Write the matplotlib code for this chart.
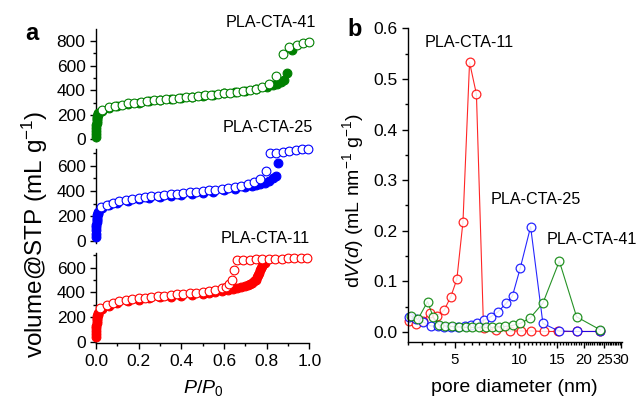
import numpy as np
import matplotlib
matplotlib.use("Agg")
from matplotlib import pyplot as plt
from matplotlib.ticker import MultipleLocator, FixedLocator, NullFormatter, FixedFormatter

#################################
# style
#################################
plt.rcParams['font.family'] = ['Liberation Sans', 'DejaVu Sans']
plt.rcParams['mathtext.fontset'] = 'custom'
plt.rcParams['mathtext.rm'] = 'Liberation Sans'
plt.rcParams['mathtext.it'] = 'Liberation Sans:italic'
plt.rcParams['mathtext.default'] = 'regular'

#################################
# data: (a) N2 isotherms, P/P0 vs volume
#################################
# PLA-CTA-11 (red)
x11_ads = [0.0002, 0.0005, 0.001, 0.0015, 0.002, 0.003, 0.004, 0.005, 0.006, 0.007, 0.008, 0.009, 0.01,
           0.03, 0.06, 0.10, 0.15, 0.20, 0.25, 0.30, 0.35, 0.40, 0.45, 0.50, 0.53, 0.56, 0.59, 0.62,
           0.64, 0.66, 0.68, 0.70, 0.71, 0.72, 0.73, 0.74, 0.75, 0.755, 0.76, 0.765, 0.77, 0.775, 0.78, 0.79]
v11_ads = [35, 60, 85, 110, 130, 150, 165, 180, 193, 205, 215, 225, 235,
           262, 290, 310, 328, 340, 350, 358, 366, 374, 382, 390, 396, 403, 412, 422,
           430, 438, 446, 455, 461, 468, 477, 488, 502, 520, 540, 560, 580, 600, 615, 635]
x11_des = [0.02, 0.05, 0.08, 0.11, 0.14, 0.17, 0.20, 0.23, 0.26, 0.29, 0.32, 0.35, 0.38, 0.41, 0.44,
           0.47, 0.50, 0.53, 0.56, 0.59, 0.61, 0.625, 0.635, 0.645, 0.66, 0.69, 0.72, 0.75, 0.78,
           0.81, 0.84, 0.87, 0.90, 0.93, 0.96, 0.99]
v11_des = [270, 298, 315, 327, 336, 344, 351, 357, 363, 368, 373, 378, 383, 388, 393,
           398, 404, 411, 420, 432, 445, 465, 500, 578, 662, 664, 665, 666, 668,
           669, 670, 672, 674, 676, 678, 680]

# PLA-CTA-25 (blue)
x25_ads = [0.0002, 0.0005, 0.001, 0.0015, 0.002, 0.003, 0.004, 0.005, 0.006, 0.007, 0.008, 0.009, 0.01,
           0.03, 0.06, 0.10, 0.15, 0.20, 0.25, 0.30, 0.35, 0.40, 0.45, 0.50, 0.55, 0.60, 0.65,
           0.70, 0.73, 0.75, 0.77, 0.79, 0.81, 0.83, 0.845, 0.855]
v25_ads = [35, 60, 85, 110, 130, 150, 165, 180, 193, 205, 215, 225, 235,
           262, 288, 305, 320, 333, 343, 352, 361, 369, 377, 385, 394, 404, 416,
           430, 438, 447, 455, 466, 480, 500, 523, 625]
x25_des = [0.023, 0.05, 0.08, 0.11, 0.14, 0.17, 0.20, 0.23, 0.26, 0.29, 0.32, 0.35, 0.38, 0.41, 0.44,
           0.47, 0.50, 0.53, 0.56, 0.59, 0.62, 0.65, 0.68, 0.71, 0.74, 0.77, 0.795,
           0.815, 0.845, 0.875, 0.905, 0.935, 0.965, 0.995]
v25_des = [269, 290, 306, 318, 328, 336, 343, 350, 356, 362, 368, 373, 378, 384, 389,
           394, 400, 405, 411, 417, 424, 432, 442, 455, 472, 495, 563,
           700, 705, 712, 718, 725, 732, 738]

# PLA-CTA-41 (green)
x41_ads = [0.0002, 0.0005, 0.001, 0.0015, 0.002, 0.003, 0.004, 0.005, 0.006, 0.007, 0.008, 0.009, 0.01,
           0.03, 0.06, 0.10, 0.15, 0.20, 0.25, 0.30, 0.35, 0.40, 0.45, 0.50, 0.55, 0.60, 0.65,
           0.70, 0.75, 0.80, 0.83, 0.85, 0.865, 0.88, 0.895, 0.92]
v41_ads = [20, 45, 70, 95, 115, 135, 150, 163, 175, 187, 197, 206, 215,
           235, 255, 272, 287, 300, 310, 319, 328, 337, 346, 355, 365, 375, 386,
           398, 410, 425, 440, 452, 468, 480, 538, 728]
x41_des = [0.027, 0.06, 0.09, 0.12, 0.15, 0.18, 0.21, 0.24, 0.27, 0.30, 0.33, 0.36, 0.39, 0.42, 0.45,
           0.48, 0.51, 0.54, 0.57, 0.60, 0.63, 0.66, 0.69, 0.72, 0.75, 0.78, 0.81, 0.845,
           0.875, 0.905, 0.94, 0.97, 1.0]
v41_des = [240, 262, 274, 284, 293, 300, 306, 312, 317, 322, 327, 332, 337, 342, 347,
           352, 358, 363, 369, 375, 381, 388, 396, 404, 413, 425, 450, 512,
           693, 754, 768, 782, 795]

#################################
# data: (b) pore size distribution
#################################
d11 = [3.05, 3.3, 3.55, 3.8, 4.1, 4.45, 4.78, 5.1, 5.45, 5.85, 6.3, 6.8, 7.8, 9.0, 10.2, 11.4, 13.0, 15.2, 18.6, 23.9]
dv11 = [0.022, 0.016, 0.022, 0.037, 0.032, 0.043, 0.070, 0.104, 0.218, 0.533, 0.470, 0.008, 0.003, 0.002,
        0.002, 0.002, 0.001, 0.001, 0.001, 0.001]
d25 = [3.05, 3.3, 3.55, 3.85, 4.15, 4.45, 4.8, 5.15, 5.55, 5.95, 6.35, 6.8, 7.35, 7.95, 8.7, 9.3, 10.1,
       11.3, 12.9, 15.3, 18.6, 23.9]
dv25 = [0.030, 0.025, 0.020, 0.012, 0.011, 0.010, 0.010, 0.010, 0.011, 0.013, 0.017, 0.023, 0.030, 0.040,
        0.057, 0.072, 0.126, 0.208, 0.017, 0.002, 0.001, 0.001]
d41 = [3.1, 3.35, 3.72, 3.95, 4.2, 4.5, 4.85, 5.2, 5.6, 6.0, 6.45, 6.95, 7.45, 8.0, 8.6, 9.3, 10.1,
       11.2, 12.9, 15.4, 18.55, 24.0]
dv41 = [0.032, 0.025, 0.060, 0.030, 0.014, 0.012, 0.011, 0.010, 0.009, 0.009, 0.009, 0.009, 0.009, 0.010,
        0.011, 0.013, 0.017, 0.027, 0.057, 0.140, 0.030, 0.004]

names = ["PLA-CTA-11", "PLA-CTA-25", "PLA-CTA-41"]
colors = ["#ff0000", "#0000ff", "#008000"]

#################################
# figure
#################################
fig = plt.figure(figsize=(6.37, 4.03), dpi=100)

tick_fs = 12.5
lab_fs = 14

def style_axis(ax):
    for s in ["top", "right"]:
        ax.spines[s].set_visible(False)
    for s in ["left", "bottom"]:
        ax.spines[s].set_linewidth(1.0)
    ax.tick_params(which="major", direction="out", length=4, width=1.0, labelsize=tick_fs)
    ax.tick_params(which="minor", direction="out", length=2.2, width=1.0)

# left column: three stacked isotherm panels (top=41, middle=25, bottom=11)
ax41 = fig.add_axes([0.1507, 0.6494, 0.335, 0.2777])
ax25 = fig.add_axes([0.1507, 0.3973, 0.335, 0.2327])
ax11 = fig.add_axes([0.1507, 0.1484, 0.335, 0.2228])

panels = [(ax11, x11_ads, v11_ads, x11_des, v11_des, colors[0], (-12, 715), [0, 200, 400, 600]),
          (ax25, x25_ads, v25_ads, x25_des, v25_des, colors[1], (-15, 735), [0, 200, 400, 600]),
          (ax41, x41_ads, v41_ads, x41_des, v41_des, colors[2], (-15, 895), [0, 200, 400, 600, 800])]

for ax, xa, va, xd, vd, c, yl, yt in panels:
    style_axis(ax)
    ax.plot(xa, va, "o", ms=6.3, mfc=c, mec=c, mew=0.8, clip_on=False, zorder=3)
    ax.plot(xd, vd, "o", ms=6.3, mfc="white", mec=c, mew=0.8, clip_on=False, zorder=4)
    ax.set_xlim(0, 1.0)
    ax.set_ylim(*yl)
    ax.yaxis.set_major_locator(FixedLocator(yt))
    ax.yaxis.set_minor_locator(MultipleLocator(100))
    ax.xaxis.set_major_locator(MultipleLocator(0.2))
    ax.xaxis.set_minor_locator(MultipleLocator(0.1))
    ax.patch.set_alpha(0)

for ax in [ax41, ax25]:
    ax.spines["bottom"].set_visible(False)
    ax.tick_params(axis="x", which="both", bottom=False, labelbottom=False)

ax11.xaxis.set_major_formatter(matplotlib.ticker.FormatStrFormatter("%.1f"))

ax41.text(1.03, 947, names[2], ha="right", va="center", fontsize=11.6, clip_on=False)
ax25.text(1.017, 904, names[1], ha="right", va="center", fontsize=11.6, clip_on=False)
ax11.text(1.003, 837, names[0], ha="right", va="center", fontsize=11.6, clip_on=False)

fig.text(0.055, 0.418, "volume@STP (mL g$^{-1}$)", rotation=90, ha="center", va="center", fontsize=17.5)
fig.text(0.319, 0.038, "$\\it{P}$/$\\it{P}_{0}$", ha="center", va="center", fontsize=lab_fs)
fig.text(0.050, 0.918, "a", ha="center", va="center", fontsize=17, fontweight="bold")

# right: pore size distribution
axb = fig.add_axes([0.6399, 0.1511, 0.3367, 0.7784])
style_axis(axb)
axb.set_xscale("log")
for d, v, c in [(d11, dv11, colors[0]), (d25, dv25, colors[1]), (d41, dv41, colors[2])]:
    axb.plot(d, v, "-o", color=c, lw=0.8, ms=6.3, mfc="white", mec=c, mew=0.9, alpha=0.85, clip_on=False)
axb.set_xlim(3.0, 30.3)
axb.set_ylim(-0.02, 0.6)
axb.xaxis.set_major_locator(FixedLocator([5, 10, 15, 20, 25, 30]))
axb.xaxis.set_major_formatter(FixedFormatter(["5", "10", "15", "20", "25", "30"]))
axb.xaxis.set_minor_locator(FixedLocator(np.arange(3.0, 30.3, 0.5)))
axb.xaxis.set_minor_formatter(NullFormatter())
axb.tick_params(axis="x", which="major", labelsize=10.8)
axb.yaxis.set_major_locator(MultipleLocator(0.1))
axb.yaxis.set_minor_locator(MultipleLocator(0.05))
axb.yaxis.set_major_formatter(matplotlib.ticker.FormatStrFormatter("%.1f"))

axb.text(5.85, 0.572, names[0], ha="center", va="center", fontsize=11.6)
axb.text(11.9, 0.261, names[1], ha="center", va="center", fontsize=11.6)
axb.text(21.8, 0.183, names[2], ha="center", va="center", fontsize=11.6, clip_on=False)

fig.text(0.554, 0.504, "d$\\it{V}$($\\it{d}$) (mL nm$^{-1}$ g$^{-1}$)", rotation=90, ha="center", va="center",
         fontsize=lab_fs)
fig.text(0.808, 0.038, "pore diameter (nm)", ha="center", va="center", fontsize=lab_fs)
fig.text(0.557, 0.928, "b", ha="center", va="center", fontsize=17, fontweight="bold")

fig.savefig("out.png", dpi=100)
